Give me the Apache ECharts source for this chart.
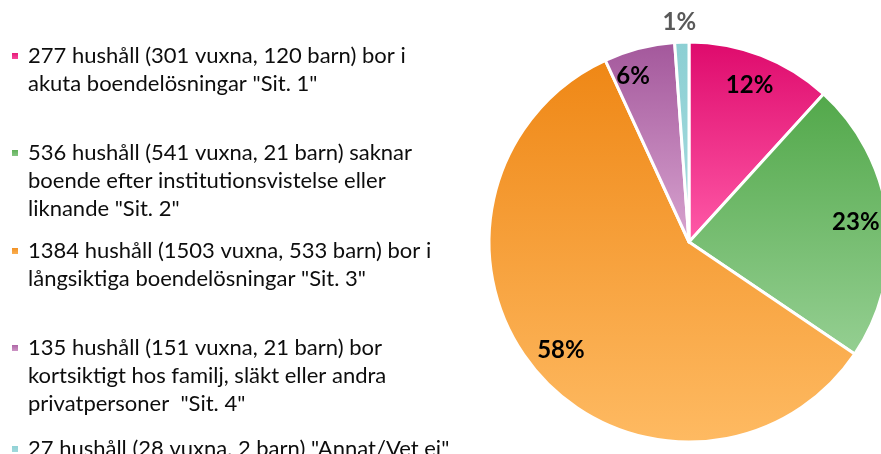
<!DOCTYPE html>
<html>
<head>
<meta charset="utf-8">
<script src="https://cdn.jsdelivr.net/npm/echarts@6/dist/echarts.min.js"></script>
<style>
  html, body { margin: 0; padding: 0; background: #fff; }
  #chart { width: 881px; height: 454px; }
</style>
</head>
<body>
<div id="chart"></div>
<script>
// data
const categories = [
  '277 hushåll (301 vuxna, 120 barn) bor i\nakuta boendelösningar "Sit. 1"',
  '536 hushåll (541 vuxna, 21 barn) saknar\nboende efter institutionsvistelse eller\nliknande "Sit. 2"',
  '1384 hushåll (1503 vuxna, 533 barn) bor i\nlångsiktiga boendelösningar "Sit. 3"',
  '135 hushåll (151 vuxna, 21 barn) bor\nkortsiktigt hos familj, släkt eller andra\nprivatpersoner  "Sit. 4"',
  '27 hushåll (28 vuxna, 2 barn) "Annat/Vet ej"'
];
const households = [277, 536, 1384, 135, 27];

// gradient colours (top -> bottom of each slice)
const colorTop = ['#DE0A6C', '#52A84A', '#EF8715', '#A3579B', '#8CCFD3'];
const colorBottom = ['#FF5AA8', '#95CF92', '#FEBA62', '#D8A4D0', '#A6DCDF'];
// top of each legend block
const legendTops = [14, 83, 209, 278, 435];

const FONT = 'Lato';

const chart = echarts.init(document.getElementById('chart'));

const grad = i => new echarts.graphic.LinearGradient(0, 0, 0, 1, [
  { offset: 0, color: colorTop[i] },
  { offset: 1, color: colorBottom[i] }
]);

// one legend per entry so every block can sit where it does in the picture
const legends = categories.map((name, i) => ({
  data: [name],
  orient: 'vertical',
  left: 10,
  top: legendTops[i],
  padding: 0,
  icon: 'rect',
  itemWidth: 8,
  itemHeight: 8,
  selectedMode: false,
  // blank lines above keep the marker level with the first text line
  formatter: n => {
    const lines = n.split('\n');
    return new Array(lines.length - 1).fill('').concat(lines).join('\n');
  },
  textStyle: {
    fontFamily: FONT,
    fontSize: 22,
    lineHeight: 28,
    color: '#0d0d0d',
    padding: [0, 0, 0, 4]
  }
}));

const option = {
  backgroundColor: '#fff',
  animation: false,
  legend: legends,
  series: [
    {
      name: 'slices',
      type: 'pie',
      center: [689, 242],
      radius: [0, 200],
      startAngle: 90,
      percentPrecision: 0,
      silent: true,
      label: { show: false },
      labelLine: { show: false },
      itemStyle: { borderColor: '#fff', borderWidth: 3 },
      data: categories.map((name, i) => ({
        name: name,
        value: households[i],
        itemStyle: { color: grad(i) }
      }))
    },
    {
      // transparent ring only to place the percent labels
      name: 'labels',
      type: 'pie',
      center: [689, 242],
      radius: [130, 200],
      startAngle: 90,
      percentPrecision: 0,
      silent: true,
      itemStyle: { color: 'rgba(0,0,0,0)', borderWidth: 0 },
      emphasis: { disabled: true },
      label: {
        show: true,
        position: 'inside',
        formatter: '{d}%',
        fontFamily: FONT,
        fontWeight: 'bold',
        fontSize: 24,
        color: '#000'
      },
      labelLine: { show: false },
      data: categories.map((name, i) => {
        const item = { name: name, value: households[i] };
        if (i === 3) {
          item.label = { offset: [-14, -3] };
        }
        if (i === categories.length - 1) {
          item.label = { position: 'outside', color: '#595959', offset: [20, 0] };
          item.labelLine = { show: false, length: 20, length2: 0 };
        }
        return item;
      })
    }
  ]
};

chart.setOption(option);
</script>
</body>
</html>
